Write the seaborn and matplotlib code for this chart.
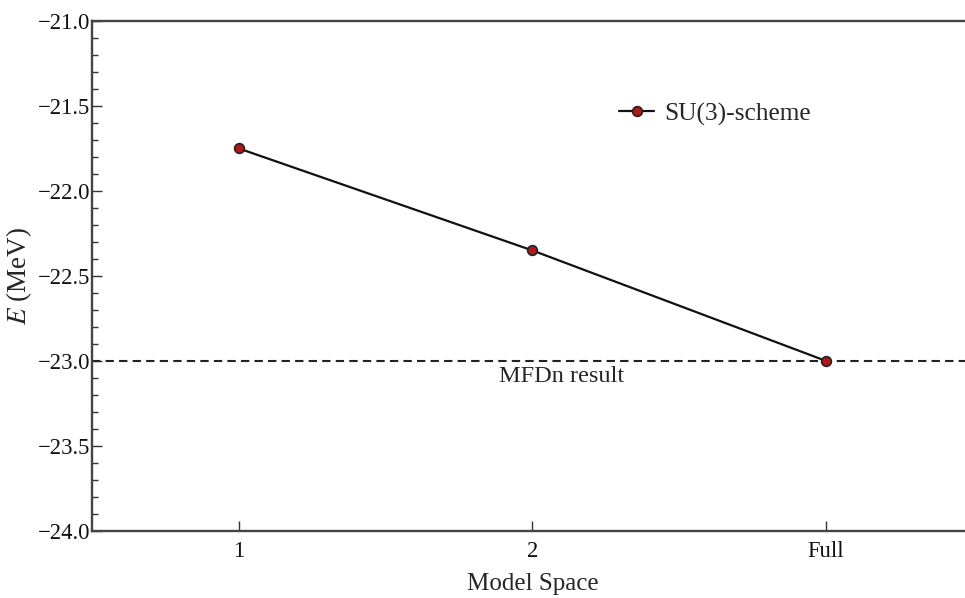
import numpy as np
import pandas as pd
import matplotlib.pyplot as plt
import seaborn as sns
from matplotlib.ticker import MultipleLocator

sns.set_style(style='ticks')
plt.rcParams['font.family'] = ['Liberation Serif', 'DejaVu Serif']
plt.rcParams['mathtext.fontset'] = 'stix'

# data
model_space = ['1', '2', 'Full']
positions = [1, 2, 3]
energy = [-21.75, -22.35, -23.0]
mfdn_energy = -23.0

df = pd.DataFrame({'pos': positions, 'E': energy, 'label': 'SU(3)-scheme'})

fig = plt.figure(figsize=(9.65, 5.98), dpi=100)
ax = fig.add_axes([0.0953, 0.112, 0.913, 0.853])

sns.lineplot(data=df, x='pos', y='E', hue='label', palette=['#111111'],
             marker='o', markersize=7, markerfacecolor='#b01818',
             markeredgecolor='#222222', markeredgewidth=1.2,
             linewidth=1.6, ax=ax)
ax.axhline(mfdn_energy, color='#222222', linestyle=(0, (4, 2.5)), linewidth=1.5, zorder=1)
ax.text(2.10, -23.09, 'MFDn result', ha='center', va='center', fontsize=17.5)

ax.set_xlim(0.5, 3.5)
ax.set_ylim(-24.0, -21.0)
ax.set_xticks(positions)
ax.set_xticklabels(model_space)
ax.yaxis.set_major_locator(MultipleLocator(0.5))
ax.yaxis.set_minor_locator(MultipleLocator(0.1))
ax.yaxis.set_major_formatter(plt.FuncFormatter(lambda v, p: f'\u2212{abs(v):.1f}'))
ax.tick_params(axis='both', which='major', direction='in', length=7, width=1.0,
               labelsize=16.3, colors='#333333', labelcolor='#111111')
ax.tick_params(axis='y', which='minor', direction='in', length=4, width=1.0, colors='#333333')
ax.tick_params(axis='y', pad=1)
ax.tick_params(axis='x', pad=7)

for side in ['left', 'bottom', 'top', 'right']:
    ax.spines[side].set_linewidth(1.7)
    ax.spines[side].set_color('#444444')

ax.set_xlabel('Model Space', fontsize=18, labelpad=8)
ax.set_ylabel('$E$ (MeV)', fontsize=19.5)
ax.yaxis.set_label_coords(-0.066, 0.5)

leg = ax.legend(loc='upper left', bbox_to_anchor=(0.572, 0.885), frameon=False,
                fontsize=18.3, handlelength=1.4, handletextpad=0.4)

fig.savefig('out.png', dpi=100)
